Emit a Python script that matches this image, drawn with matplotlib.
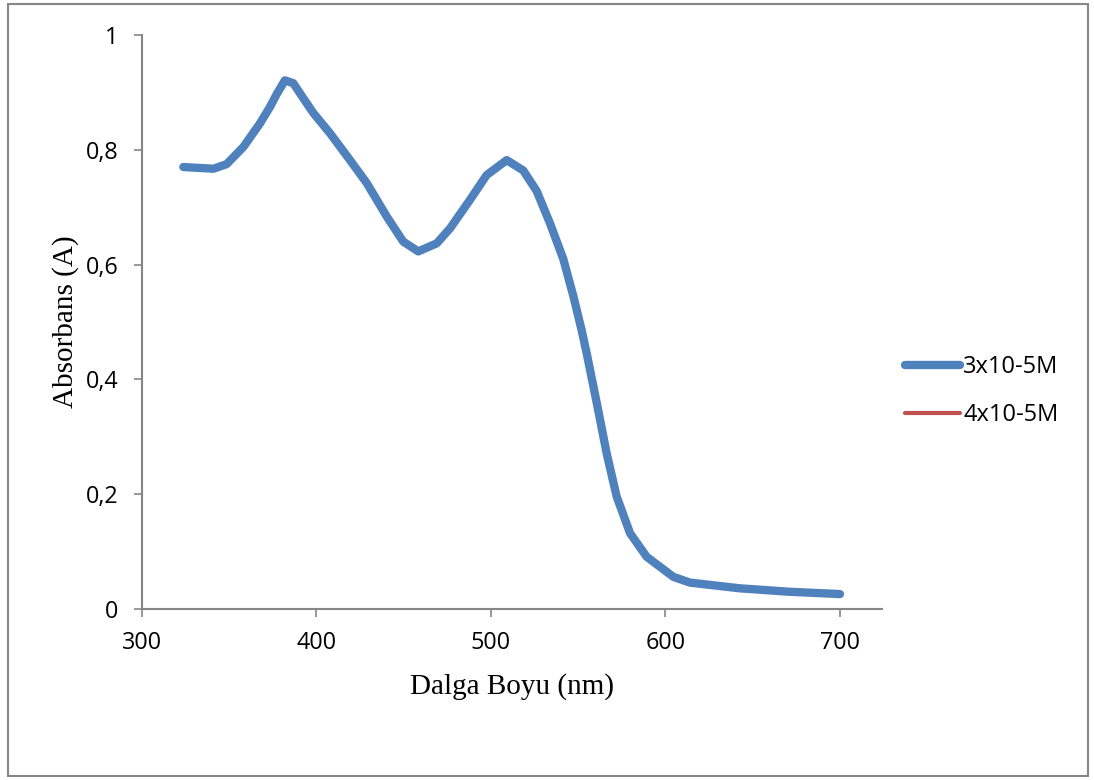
import matplotlib.pyplot as plt
from matplotlib.patches import Rectangle

# Data
wavelength = [323.7, 340.9, 348.5, 358.1, 367.6, 373.4, 377.2, 381.9, 386.7, 392.4,
              398.2, 407.7, 419.2, 428.8, 440.2, 449.7, 458.3, 468.9, 476.5, 488.0,
              497.5, 509.0, 518.5, 526.2, 533.8, 541.4, 547.2, 552.0, 554.8, 560.6,
              566.3, 572.0, 579.7, 589.2, 604.5, 614.0, 642.7, 671.3, 700.0]
abs_3e5 = [0.770, 0.767, 0.775, 0.805, 0.846, 0.875, 0.897, 0.921, 0.916, 0.890,
           0.864, 0.829, 0.782, 0.742, 0.684, 0.640, 0.623, 0.637, 0.663, 0.713,
           0.756, 0.782, 0.764, 0.728, 0.672, 0.610, 0.545, 0.485, 0.446, 0.359,
           0.271, 0.196, 0.132, 0.091, 0.056, 0.046, 0.036, 0.030, 0.026]
wavelength_4e5 = []
abs_4e5 = []

series_names = ['3x10-5M', '4x10-5M']
x_ticks = [300, 400, 500, 600, 700]
y_ticks = [0, 0.2, 0.4, 0.6, 0.8, 1.0]
y_tick_labels = ['0', '0,2', '0,4', '0,6', '0,8', '1']

W, H = 1094, 780
fig = plt.figure(figsize=(W / 100, H / 100), dpi=100)
ax = fig.add_axes([142 / W, 1 - 609 / H, (882 - 142) / W, (609 - 35) / H])

ax.plot(wavelength, abs_3e5, color='#4F81BD', lw=6, solid_capstyle='round',
        solid_joinstyle='round', label=series_names[0])
ax.plot(wavelength_4e5, abs_4e5, color='#C0504D', lw=3, solid_capstyle='round',
        label=series_names[1])

ax.set_xlim(300, 300 + (882 - 142) / 174.5 * 100)
ax.set_ylim(0, 1)
ax.set_xticks(x_ticks)
ax.set_yticks(y_ticks)
ax.set_yticklabels(y_tick_labels)

gray = '#868686'
for side in ['top', 'right']:
    ax.spines[side].set_visible(False)
for side in ['left', 'bottom']:
    ax.spines[side].set_color(gray)
    ax.spines[side].set_linewidth(1.5)
ax.tick_params(direction='out', length=6, width=1.2, color=gray, labelsize=16.8,
               labelfontfamily='Open Sans')
ax.tick_params(axis='y', pad=11)
ax.tick_params(axis='x', pad=10)

ax.set_xlabel('Dalga Boyu (nm)', family='Liberation Serif', fontsize=21, labelpad=13)
ax.set_ylabel('Absorbans (A)', family='Liberation Serif', fontsize=21, labelpad=5)

leg = ax.legend(loc='center left', bbox_to_anchor=(905 / W, 1 - 391 / H),
                bbox_transform=fig.transFigure, frameon=False, handlelength=2.33,
                handletextpad=0.13, labelspacing=1.0, borderaxespad=0, borderpad=0,
                prop={'family': 'Open Sans', 'size': 17})

fig.patches.append(Rectangle((8 / W, 4 / H), (1088 - 8) / W, (776 - 4) / H,
                             transform=fig.transFigure, fill=False,
                             edgecolor=gray, lw=1.5))

fig.savefig('out.png', dpi=100)
